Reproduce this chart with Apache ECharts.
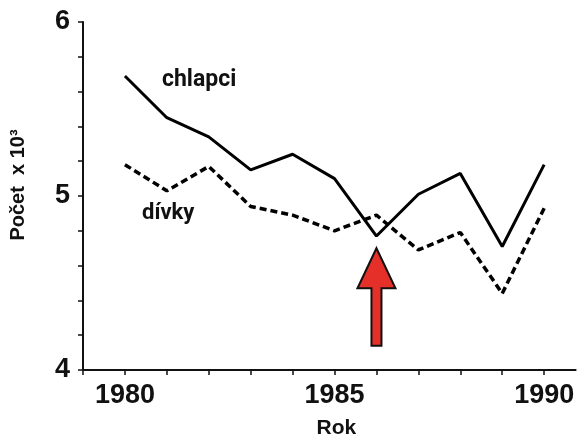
<!DOCTYPE html>
<html>
<head>
<meta charset="utf-8">
<script src="https://cdn.jsdelivr.net/npm/echarts@6/dist/echarts.min.js"></script>
<style>
  html, body { margin: 0; padding: 0; background: #fff; }
  #chart { width: 577px; height: 444px; }
</style>
</head>
<body>
<div id="chart"></div>
<script>
// Years of the series
const years = [1980, 1981, 1982, 1983, 1984, 1985, 1986, 1987, 1988, 1989, 1990];
// Births (thousands): boys and girls
const chlapci = [5.69, 5.45, 5.34, 5.15, 5.24, 5.10, 4.77, 5.01, 5.13, 4.71, 5.18];
const divky   = [5.18, 5.03, 5.17, 4.94, 4.89, 4.80, 4.89, 4.69, 4.79, 4.44, 4.93];
// Arrow marking 1986: [year, tip value, tail value]
const arrow = [[1986, 4.70, 4.14]];
// Tick labels shown on the axes
const xTickLabels = [1980, 1985, 1990];
const yTickLabels = [4, 5, 6];

const chart = echarts.init(document.getElementById('chart'));
const FONT = '"Liberation Sans", Arial, sans-serif';

chart.setOption({
  animation: false,
  backgroundColor: '#fff',
  grid: { left: 80, right: 0, top: 22, bottom: 72 },
  xAxis: {
    type: 'value',
    min: 1979,
    max: 1990.75,
    interval: 1,
    name: 'Rok',
    nameLocation: 'middle',
    nameGap: 48,
    nameTextStyle: { fontFamily: FONT, fontWeight: 'bold', fontSize: 21, color: '#111', padding: [0, 0, 0, 14] },
    axisLine: { lineStyle: { color: '#111', width: 2 } },
    axisTick: { inside: false, length: 5, lineStyle: { color: '#111', width: 1.5 } },
    splitLine: { show: false },
    axisLabel: {
      showMaxLabel: false,
      margin: 12,
      fontFamily: FONT, fontWeight: 'bold', fontSize: 27, color: '#111',
      formatter: v => xTickLabels.includes(Math.round(v)) && Math.abs(v - Math.round(v)) < 1e-6 ? String(Math.round(v)) : ''
    }
  },
  yAxis: {
    type: 'value',
    min: 4,
    max: 6,
    interval: 0.2,
    name: 'Počet  x 10³',
    nameLocation: 'middle',
    nameGap: 55,
    nameRotate: 90,
    nameTextStyle: { fontFamily: FONT, fontWeight: 'bold', fontSize: 20, color: '#111', padding: [0, 0, 0, 22] },
    axisLine: { show: true, lineStyle: { color: '#111', width: 2 } },
    axisTick: { show: true, inside: false, length: 5, lineStyle: { color: '#111', width: 1.5 } },
    splitLine: { show: false },
    axisLabel: {
      margin: 13,
      fontFamily: FONT, fontWeight: 'bold', fontSize: 27, color: '#111',
      formatter: v => {
        const r = Math.round(v);
        return Math.abs(v - r) < 1e-6 && yTickLabels.includes(r) ? String(r) : '';
      }
    }
  },
  series: [
    {
      name: 'chlapci',
      type: 'line',
      data: years.map((y, i) => [y, chlapci[i]]),
      symbol: 'none',
      lineStyle: { color: '#000', width: 3 }
    },
    {
      name: 'dívky',
      type: 'line',
      data: years.map((y, i) => [y, divky[i]]),
      symbol: 'none',
      lineStyle: { color: '#000', width: 3.5, type: [7, 4] }
    },
    {
      name: 'arrow',
      type: 'custom',
      data: arrow,
      renderItem: function (params, api) {
        const tip = api.coord([api.value(0), api.value(1)]);
        const tail = api.coord([api.value(0), api.value(2)]);
        const headH = 40, headW = 19, shaftW = 5;
        const x = tip[0];
        const baseY = tip[1] + headH;
        return {
          type: 'polygon',
          shape: {
            points: [
              [x, tip[1]],
              [x + headW, baseY],
              [x + shaftW, baseY],
              [x + shaftW, tail[1]],
              [x - shaftW, tail[1]],
              [x - shaftW, baseY],
              [x - headW, baseY]
            ]
          },
          style: { fill: '#e5302a', stroke: '#111', lineWidth: 2, lineJoin: 'miter' }
        };
      }
    }
  ],
  graphic: [
    {
      type: 'text', left: 162, top: 69,
      style: { text: 'chlapci', fontFamily: 'Roboto, sans-serif', fontWeight: 'bold', fontSize: 23, fill: '#111' }
    },
    {
      type: 'text', left: 142, top: 202,
      style: { text: 'dívky', fontFamily: 'Roboto, sans-serif', fontWeight: 'bold', fontSize: 22, fill: '#111' }
    }
  ]
});
</script>
</body>
</html>
